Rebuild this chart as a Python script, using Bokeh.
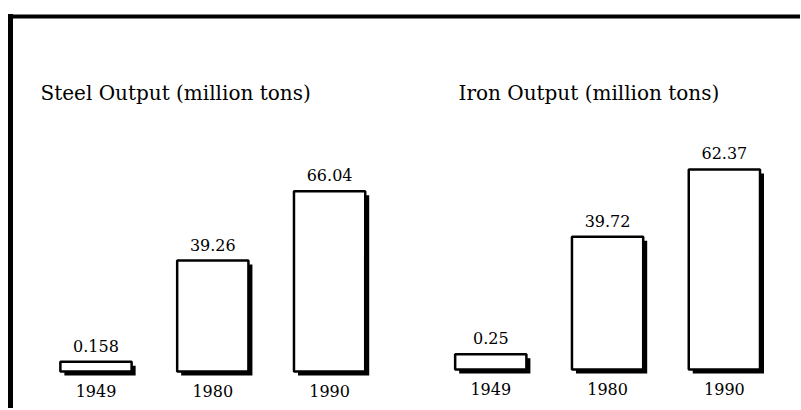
import numpy as np
from bokeh.plotting import figure
from bokeh.models import Range1d, FixedTicker
from bokeh.core.properties import value
from bokeh.embed import file_html
from bokeh.resources import INLINE

# ---------------- data ----------------
years = ["1949", "1980", "1990"]
steel_output = [0.158, 39.26, 66.04]
iron_output = [0.25, 39.72, 62.37]
steel_title = "Steel Output (million tons)"
iron_title = "Iron Output (million tons)"

# ---------------- layout / style ----------------
W, H = 800, 408
MB_LEFT, MB_TOP = 10, 16
FW, FH = W - MB_LEFT, H - MB_TOP
UNIT_PX = 116.8
X_START = -0.732
X_END = X_START + FW / UNIT_PX
GROUP_OFFSET = 3.38
BAR_W = 0.61
SHADOW_PX = 4
FONT = value("DejaVu Serif")

steel_range = Range1d(-17.94, 133.64)
iron_range = Range1d(-17.98, 113.74)
steel_base = -3.63
iron_base = -4.87

p = figure(width=W, height=H, output_backend="svg", toolbar_location=None,
           x_range=Range1d(X_START, X_END), y_range=Range1d(0, 1),
           x_axis_location="above", y_axis_location="left",
           min_border_left=MB_LEFT, min_border_top=MB_TOP,
           min_border_right=0, min_border_bottom=0)
p.extra_y_ranges = {"steel": steel_range, "iron": iron_range}
p.grid.visible = False
p.outline_line_color = None
p.background_fill_color = "white"
p.border_fill_color = "white"

for ax, lw in ((p.xaxis[0], 4), (p.yaxis[0], 5)):
    ax.ticker = FixedTicker(ticks=[])
    ax.major_tick_out = 0
    ax.major_tick_in = 0
    ax.minor_tick_out = 0
    ax.minor_tick_in = 0
    ax.major_label_text_font_size = "0px"
    ax.major_label_standoff = 0
    ax.axis_line_width = lw
    ax.axis_line_color = "black"
    ax.axis_line_cap = "square"


def page_to_x(px):
    return X_START + (px - MB_LEFT) / UNIT_PX


def page_to_y(rng, py):
    return rng.end - (py - MB_TOP) * (rng.end - rng.start) / FH


groups = [
    ("steel", steel_range, steel_base, np.arange(len(years)), steel_output, steel_title, 40),
    ("iron", iron_range, iron_base, np.arange(len(years)) + GROUP_OFFSET, iron_output, iron_title, 458),
]

for name, rng, base, xs, vals, title, title_px in groups:
    vals = np.array(vals, dtype=float)
    dx = SHADOW_PX / UNIT_PX
    dy = SHADOW_PX * (rng.end - rng.start) / FH
    # shadow
    p.quad(left=xs - BAR_W / 2 + dx, right=xs + BAR_W / 2 + dx,
           bottom=base - dy, top=vals - dy,
           fill_color="black", line_color=None, y_range_name=name)
    # bar
    p.quad(left=xs - BAR_W / 2, right=xs + BAR_W / 2,
           bottom=base, top=vals,
           fill_color="white", line_color="black", line_width=2.5,
           y_range_name=name)
    # value labels
    p.text(x=xs, y=vals, text=[str(v) for v in vals],
           text_font=FONT, text_font_size="16px", text_color="black",
           text_align="center", text_baseline="bottom", y_offset=-10,
           y_range_name=name)
    # year labels
    p.text(x=xs, y=[base] * len(xs), text=years,
           text_font=FONT, text_font_size="16px", text_color="black",
           text_align="center", text_baseline="top", y_offset=14,
           y_range_name=name)
    # title
    p.text(x=[page_to_x(title_px)], y=[page_to_y(rng, 92)], text=[title],
           text_font=FONT, text_font_size="20px", text_color="black",
           text_align="left", text_baseline="alphabetic",
           y_range_name=name)

open("out.html", "w").write(file_html(p, INLINE))
